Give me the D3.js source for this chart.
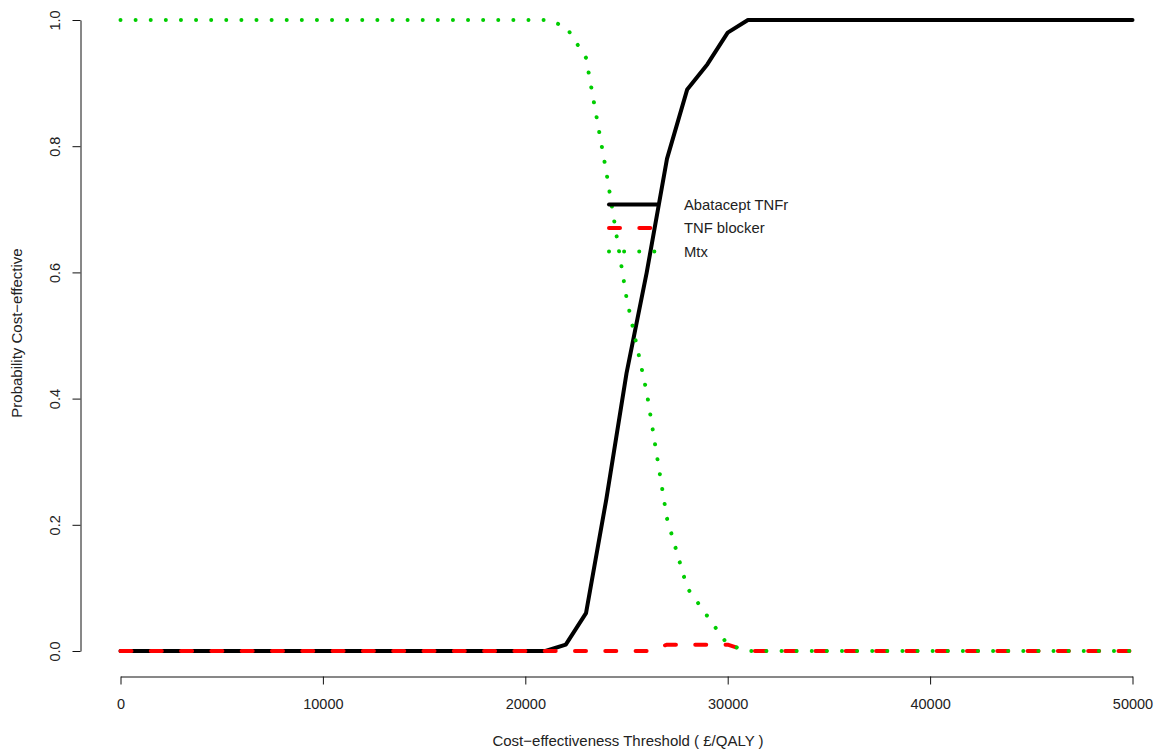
<!DOCTYPE html>
<html>
<head>
<meta charset="utf-8">
<script src="https://cdn.jsdelivr.net/npm/d3@7"></script>
<style>
  html, body { margin: 0; padding: 0; background: #fff; }
  svg { display: block; }
  text { font-family: "Liberation Sans", Arial, sans-serif; fill: #222; }
</style>
</head>
<body>
<svg id="chart" width="1162" height="751"></svg>
<script>
// Willingness-to-pay thresholds (£/QALY)
const thresholds = [
  0, 1000, 2000, 3000, 4000, 5000, 6000, 7000, 8000, 9000,
  10000, 11000, 12000, 13000, 14000, 15000, 16000, 17000, 18000, 19000,
  20000, 21000, 22000, 23000, 24000, 25000, 26000, 27000, 28000, 29000,
  30000, 31000, 32000, 33000, 34000, 35000, 36000, 37000, 38000, 39000,
  40000, 41000, 42000, 43000, 44000, 45000, 46000, 47000, 48000, 49000,
  50000
];

// Probability each strategy is cost-effective at each threshold
const abataceptTNFr = [
  0, 0, 0, 0, 0, 0, 0, 0, 0, 0,
  0, 0, 0, 0, 0, 0, 0, 0, 0, 0,
  0, 0, 0.01, 0.06, 0.24, 0.44, 0.60, 0.78, 0.89, 0.93,
  0.98, 1, 1, 1, 1, 1, 1, 1, 1, 1,
  1, 1, 1, 1, 1, 1, 1, 1, 1, 1,
  1
];
const tnfBlocker = [
  0, 0, 0, 0, 0, 0, 0, 0, 0, 0,
  0, 0, 0, 0, 0, 0, 0, 0, 0, 0,
  0, 0, 0, 0, 0, 0, 0, 0.01, 0.01, 0.01,
  0.01, 0, 0, 0, 0, 0, 0, 0, 0, 0,
  0, 0, 0, 0, 0, 0, 0, 0, 0, 0,
  0
];
const mtx = [
  1, 1, 1, 1, 1, 1, 1, 1, 1, 1,
  1, 1, 1, 1, 1, 1, 1, 1, 1, 1,
  1, 1, 0.99, 0.94, 0.76, 0.56, 0.41, 0.21, 0.10, 0.055,
  0.01, 0, 0, 0, 0, 0, 0, 0, 0, 0,
  0, 0, 0, 0, 0, 0, 0, 0, 0, 0,
  0
];

const xTicks = [0, 10000, 20000, 30000, 40000, 50000];
const yTicks = [0, 0.2, 0.4, 0.6, 0.8, 1.0];

const seriesNames = ["Abatacept TNFr", "TNF blocker", "Mtx"];
const seriesColors = ["#000000", "#ff0000", "#00cd00"];
const seriesValues = [abataceptTNFr, tnfBlocker, mtx];

const svg = d3.select("#chart");
const TICK_FONT = 14.5;
const LEGEND_FONT = 14.8;
const TITLE_FONT = 15;

const x = d3.scaleLinear().domain([0, 50000]).range([120.5, 1132.5]);
const y = d3.scaleLinear().domain([0, 1]).range([651, 20]);

// line styles: solid, dashed, dotted
const dashes = [null, "11 19.3", "0.01 15.1"];

// X axis, offset below the plotting region
const xAxisG = svg.append("g")
  .attr("transform", "translate(0,676.5)")
  .call(d3.axisBottom(x).tickValues(xTicks).tickSize(8).tickSizeOuter(0)
    .tickFormat(d3.format("d")));
xAxisG.select(".domain").attr("stroke", "#111");
xAxisG.selectAll(".tick line").attr("stroke", "#111");
xAxisG.selectAll(".tick text")
  .attr("y", 0).attr("dy", null)
  .attr("transform", "translate(0,32.5)")
  .style("font-size", TICK_FONT + "px")
  .attr("fill", "#222");

// Y axis with labels turned to read upward
const yAxisG = svg.append("g")
  .attr("transform", "translate(80.5,0)")
  .call(d3.axisLeft(y).tickValues(yTicks).tickSize(8).tickSizeOuter(0)
    .tickFormat(d3.format(".1f")));
yAxisG.select(".domain").attr("stroke", "#111");
yAxisG.selectAll(".tick line").attr("stroke", "#111");
yAxisG.selectAll(".tick text")
  .attr("x", 0).attr("dy", null).attr("y", 0)
  .attr("text-anchor", "middle")
  .attr("transform", "translate(-21,0) rotate(-90)")
  .style("font-size", TICK_FONT + "px")
  .attr("fill", "#222");

// Axis titles
svg.append("text")
  .attr("x", 628).attr("y", 746)
  .attr("text-anchor", "middle")
  .style("font-size", TITLE_FONT + "px")
  .text("Cost\u2212effectiveness Threshold ( \u00a3/QALY )");

svg.append("text")
  .attr("transform", "translate(22,333) rotate(-90)")
  .attr("text-anchor", "middle")
  .style("font-size", TITLE_FONT + "px")
  .text("Probability Cost\u2212effective");

// Acceptability curves
const line = d3.line()
  .x((d, i) => x(thresholds[i]))
  .y(d => y(d));

seriesValues.forEach((vals, k) => {
  svg.append("path")
    .datum(vals)
    .attr("d", line)
    .attr("fill", "none")
    .attr("stroke", seriesColors[k])
    .attr("stroke-width", 4)
    .attr("stroke-linecap", "round")
    .attr("stroke-linejoin", "round")
    .attr("stroke-dasharray", dashes[k]);
});

// Legend (no frame)
const legend = svg.append("g");
seriesNames.forEach((name, k) => {
  const ly = 204.5 + k * 23.5;
  legend.append("line")
    .attr("x1", 609).attr("x2", 657)
    .attr("y1", ly).attr("y2", ly)
    .attr("stroke", seriesColors[k])
    .attr("stroke-width", 4)
    .attr("stroke-linecap", "round")
    .attr("stroke-dasharray", dashes[k]);
  legend.append("text")
    .attr("x", 684).attr("y", ly + 5)
    .style("font-size", LEGEND_FONT + "px")
    .text(name);
});
</script>
</body>
</html>
